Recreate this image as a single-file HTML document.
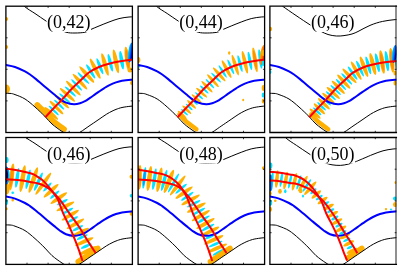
<!DOCTYPE html>
<html><head><meta charset="utf-8"><style>
html,body{margin:0;padding:0;background:#fff;}
svg{display:block;}
text{font-family:"Liberation Serif","Times New Roman",serif;}
</style></head><body>
<svg width="402" height="270" viewBox="0 0 402 270">
<defs>
<linearGradient id="gb" x1="0" y1="0" x2="1" y2="0"><stop offset="0" stop-color="#00e4ff"/><stop offset="0.45" stop-color="#0070ff"/><stop offset="0.75" stop-color="#0000e0"/><stop offset="1" stop-color="#000070"/></linearGradient>
<linearGradient id="gbl" x1="1" y1="0" x2="0" y2="0"><stop offset="0" stop-color="#00e4ff"/><stop offset="0.45" stop-color="#0070ff"/><stop offset="0.75" stop-color="#0000e0"/><stop offset="1" stop-color="#000070"/></linearGradient>
<linearGradient id="go" x1="0" y1="0" x2="1" y2="0"><stop offset="0" stop-color="#ffb000"/><stop offset="0.5" stop-color="#ff7000"/><stop offset="1" stop-color="#e00000"/></linearGradient>
<radialGradient id="oc"><stop offset="0" stop-color="#ff7a00"/><stop offset="0.6" stop-color="#ff9800"/><stop offset="1" stop-color="#ffb000"/></radialGradient>
<radialGradient id="cc"><stop offset="0" stop-color="#0050ff"/><stop offset="0.6" stop-color="#00a0ff"/><stop offset="1" stop-color="#00e4ff"/></radialGradient>
<clipPath id="pc"><rect x="5.9" y="6.2" width="126.5" height="126.3"/></clipPath>
</defs>
<g transform="translate(0.0 0.0)">
<g clip-path="url(#pc)">
<path d="M37.20,104.80 C38.87,106.38 44.37,111.47 47.20,114.30 C50.03,117.13 51.37,119.32 54.20,121.80 C57.03,124.28 62.53,127.97 64.20,129.20" fill="none" stroke="#ffb000" stroke-width="5.5" stroke-linecap="round"/>
<ellipse cx="51.3" cy="113.4" rx="9.2" ry="1.7" transform="rotate(42.8 51.3 113.4)" fill="#ffb000"/>
<ellipse cx="53.8" cy="110.5" rx="6.8" ry="1.2" transform="rotate(43.3 53.8 110.5)" fill="#00e4ff"/>
<ellipse cx="56.5" cy="107.6" rx="9.5" ry="1.7" transform="rotate(44.1 56.5 107.6)" fill="#ffb000"/>
<ellipse cx="59.2" cy="104.6" rx="7.0" ry="1.2" transform="rotate(44.0 59.2 104.6)" fill="#00e4ff"/>
<ellipse cx="62.0" cy="101.5" rx="9.8" ry="1.7" transform="rotate(43.3 62.0 101.5)" fill="#ffb000"/>
<ellipse cx="64.8" cy="98.3" rx="7.3" ry="1.2" transform="rotate(41.7 64.8 98.3)" fill="#00e4ff"/>
<ellipse cx="67.5" cy="94.9" rx="10.1" ry="1.7" transform="rotate(41.3 67.5 94.9)" fill="#ffb000"/>
<ellipse cx="70.4" cy="91.5" rx="7.5" ry="1.2" transform="rotate(42.2 70.4 91.5)" fill="#00e4ff"/>
<ellipse cx="73.4" cy="88.2" rx="10.3" ry="1.7" transform="rotate(44.9 73.4 88.2)" fill="#ffb000"/>
<ellipse cx="76.6" cy="84.9" rx="7.8" ry="1.2" transform="rotate(46.7 76.6 84.9)" fill="#00e4ff"/>
<ellipse cx="80.0" cy="81.6" rx="10.7" ry="1.8" transform="rotate(47.3 80.0 81.6)" fill="#ffb000"/>
<ellipse cx="83.4" cy="78.1" rx="8.1" ry="1.3" transform="rotate(45.2 83.4 78.1)" fill="#00e4ff"/>
<ellipse cx="86.8" cy="74.5" rx="11.0" ry="1.9" transform="rotate(47.7 86.8 74.5)" fill="#ffb000"/>
<ellipse cx="90.7" cy="71.4" rx="8.3" ry="1.5" transform="rotate(57.7 90.7 71.4)" fill="#00e4ff"/>
<ellipse cx="95.2" cy="68.7" rx="11.3" ry="2.0" transform="rotate(62.8 95.2 68.7)" fill="#ffb000"/>
<ellipse cx="99.9" cy="66.3" rx="8.6" ry="1.6" transform="rotate(68.3 99.9 66.3)" fill="#00e4ff"/>
<ellipse cx="105.0" cy="64.4" rx="11.7" ry="2.1" transform="rotate(74.0 105.0 64.4)" fill="#ffb000"/>
<ellipse cx="110.3" cy="62.8" rx="9.0" ry="1.7" transform="rotate(75.8 110.3 62.8)" fill="#00e4ff"/>
<ellipse cx="115.9" cy="61.4" rx="12.1" ry="2.2" transform="rotate(78.7 115.9 61.4)" fill="#ffb000"/>
<ellipse cx="121.6" cy="60.2" rx="9.3" ry="1.9" transform="rotate(80.6 121.6 60.2)" fill="#00e4ff"/>
<ellipse cx="127.4" cy="59.1" rx="12.4" ry="2.4" transform="rotate(82.1 127.4 59.1)" fill="#ffb000"/>
<ellipse cx="127.4" cy="59.1" rx="9.3" ry="1.7" transform="rotate(82.1 127.4 59.1)" fill="#ff9000"/>
<ellipse cx="133.5" cy="58.4" rx="9.5" ry="2.0" transform="rotate(87.1 133.5 58.4)" fill="#00e4ff"/>
<ellipse cx="130.6" cy="52.5" rx="2.6" ry="10.0" transform="rotate(8.0 130.6 52.5)" fill="url(#gb)"/>
<ellipse cx="6.0" cy="19.0" rx="2.2" ry="2.0" transform="rotate(0.0 6.0 19.0)" fill="#ffb000"/>
<ellipse cx="6.0" cy="47.0" rx="2.2" ry="2.0" transform="rotate(0.0 6.0 47.0)" fill="#ffb000"/>
<ellipse cx="6.0" cy="89.0" rx="4.0" ry="4.5" transform="rotate(0.0 6.0 89.0)" fill="#ffb000"/>
<ellipse cx="132.0" cy="83.0" rx="2.0" ry="2.0" transform="rotate(0.0 132.0 83.0)" fill="#ffb000"/>
<ellipse cx="130.0" cy="70.0" rx="2.5" ry="2.5" transform="rotate(0.0 130.0 70.0)" fill="#ffb000"/>
<path d="M15.00,-5.00 C16.50,-3.17 20.67,2.92 24.00,6.00 C27.33,9.08 31.33,11.00 35.00,13.50 C38.67,16.00 42.50,18.67 46.00,21.00 C49.50,23.33 52.67,25.63 56.00,27.50 C59.33,29.37 62.83,31.28 66.00,32.20 C69.17,33.12 71.83,33.00 75.00,33.00 C78.17,33.00 82.33,32.80 85.00,32.20 C87.67,31.60 88.67,30.43 91.00,29.40 C93.33,28.37 96.00,27.23 99.00,26.00 C102.00,24.77 105.67,23.23 109.00,22.00 C112.33,20.77 115.67,19.43 119.00,18.60 C122.33,17.77 125.83,17.30 129.00,17.00 C132.17,16.70 136.50,16.83 138.00,16.80" fill="none" stroke="#000" stroke-width="1"/>
<path d="M0.00,93.40 C1.67,93.40 7.50,93.20 10.00,93.40 C12.50,93.60 12.50,93.67 15.00,94.60 C17.50,95.53 21.67,96.93 25.00,99.00 C28.33,101.07 31.67,104.08 35.00,107.00 C38.33,109.92 42.17,113.67 45.00,116.50 C47.83,119.33 49.17,121.52 52.00,124.00 C54.83,126.48 59.33,129.68 62.00,131.40 C64.67,133.12 66.17,133.70 68.00,134.30 C69.83,134.90 71.10,135.28 73.00,135.00 C74.90,134.72 77.40,133.62 79.40,132.60 C81.40,131.58 83.40,129.98 85.00,128.90 C86.60,127.82 87.62,127.05 89.00,126.10 C90.38,125.15 91.63,124.33 93.30,123.20 C94.97,122.07 96.77,120.82 99.00,119.30 C101.23,117.78 104.53,115.45 106.70,114.10 C108.87,112.75 110.45,111.98 112.00,111.20 C113.55,110.42 114.33,110.02 116.00,109.40 C117.67,108.78 119.50,108.03 122.00,107.50 C124.50,106.97 128.33,106.45 131.00,106.20 C133.67,105.95 136.83,106.03 138.00,106.00" fill="none" stroke="#000" stroke-width="1"/>
<path d="M0.00,64.30 C1.00,64.42 3.50,64.55 6.00,65.00 C8.50,65.45 11.83,65.93 15.00,67.00 C18.17,68.07 22.50,70.15 25.00,71.40 C27.50,72.65 28.17,73.22 30.00,74.50 C31.83,75.78 34.00,77.48 36.00,79.10 C38.00,80.72 40.00,82.50 42.00,84.20 C44.00,85.90 46.00,87.62 48.00,89.30 C50.00,90.98 52.00,92.67 54.00,94.30 C56.00,95.93 58.00,97.72 60.00,99.10 C62.00,100.48 63.68,101.75 66.00,102.60 C68.32,103.45 71.57,104.08 73.90,104.20 C76.23,104.32 78.15,103.80 80.00,103.30 C81.85,102.80 83.33,102.10 85.00,101.20 C86.67,100.30 88.33,99.03 90.00,97.90 C91.67,96.77 93.50,95.45 95.00,94.40 C96.50,93.35 97.50,92.62 99.00,91.60 C100.50,90.58 102.33,89.33 104.00,88.30 C105.67,87.27 107.00,86.38 109.00,85.40 C111.00,84.42 113.83,83.17 116.00,82.40 C118.17,81.63 119.50,81.23 122.00,80.80 C124.50,80.37 128.33,80.00 131.00,79.80 C133.67,79.60 136.83,79.63 138.00,79.60" fill="none" stroke="#0000ff" stroke-width="2"/>
<path d="M45.30,117.30 C46.58,115.92 50.22,111.95 53.00,109.00 C55.78,106.05 58.83,103.02 62.00,99.60 C65.17,96.18 68.67,91.93 72.00,88.50 C75.33,85.07 79.17,81.67 82.00,79.00 C84.83,76.33 86.17,74.50 89.00,72.50 C91.83,70.50 95.67,68.45 99.00,67.00 C102.33,65.55 105.67,64.70 109.00,63.80 C112.33,62.90 115.33,62.27 119.00,61.60 C122.67,60.93 127.83,60.15 131.00,59.80 C134.17,59.45 136.83,59.55 138.00,59.50" fill="none" stroke="#ff0000" stroke-width="2"/>
</g>
<rect x="46.5" y="14" width="44.5" height="18" fill="#fff"/>
<text x="47" y="28" font-size="18" fill="#000">(0,42)</text>
</g>
<rect x="5.9" y="6.2" width="126.5" height="126.3" fill="none" stroke="#000" stroke-width="1.3"/>
<path d="M27.0,6.2v1.7M27.0,132.5v-1.7M48.1,6.2v1.7M48.1,132.5v-1.7M69.2,6.2v1.7M69.2,132.5v-1.7M90.2,6.2v1.7M90.2,132.5v-1.7M111.3,6.2v1.7M111.3,132.5v-1.7M5.9,37.8h1.7M132.4,37.8h-1.7M5.9,69.3h1.7M132.4,69.3h-1.7M5.9,100.9h1.7M132.4,100.9h-1.7" stroke="#000" stroke-width="0.8" fill="none"/>
<g transform="translate(132.2 0.0)">
<g clip-path="url(#pc)">
<path d="M47.20,114.30 C48.37,115.55 51.37,119.32 54.20,121.80 C57.03,124.28 62.53,127.97 64.20,129.20" fill="none" stroke="#ffb000" stroke-width="4.5" stroke-linecap="round"/>
<ellipse cx="50.0" cy="114.9" rx="6.0" ry="1.4" transform="rotate(42.7 50.0 114.9)" fill="#ffb000"/>
<ellipse cx="52.3" cy="112.3" rx="4.5" ry="1.0" transform="rotate(42.9 52.3 112.3)" fill="#00e4ff"/>
<ellipse cx="54.6" cy="109.7" rx="6.0" ry="1.4" transform="rotate(43.5 54.6 109.7)" fill="#ffb000"/>
<ellipse cx="57.0" cy="107.0" rx="4.5" ry="1.0" transform="rotate(44.1 57.0 107.0)" fill="#00e4ff"/>
<ellipse cx="59.4" cy="104.4" rx="6.0" ry="1.4" transform="rotate(44.0 59.4 104.4)" fill="#ffb000"/>
<ellipse cx="61.9" cy="101.6" rx="4.7" ry="1.0" transform="rotate(43.3 61.9 101.6)" fill="#00e4ff"/>
<ellipse cx="64.4" cy="98.7" rx="6.5" ry="1.4" transform="rotate(41.8 64.4 98.7)" fill="#ffb000"/>
<ellipse cx="66.9" cy="95.7" rx="5.2" ry="1.0" transform="rotate(41.3 66.9 95.7)" fill="#00e4ff"/>
<ellipse cx="69.4" cy="92.7" rx="7.2" ry="1.4" transform="rotate(41.9 69.4 92.7)" fill="#ffb000"/>
<ellipse cx="72.1" cy="89.6" rx="5.7" ry="1.0" transform="rotate(43.5 72.1 89.6)" fill="#00e4ff"/>
<ellipse cx="74.8" cy="86.7" rx="7.9" ry="1.4" transform="rotate(45.9 74.8 86.7)" fill="#ffb000"/>
<ellipse cx="77.8" cy="83.7" rx="6.2" ry="1.0" transform="rotate(47.0 77.8 83.7)" fill="#00e4ff"/>
<ellipse cx="80.8" cy="80.7" rx="8.6" ry="1.5" transform="rotate(47.2 80.8 80.7)" fill="#ffb000"/>
<ellipse cx="83.9" cy="77.6" rx="6.8" ry="1.1" transform="rotate(44.7 83.9 77.6)" fill="#00e4ff"/>
<ellipse cx="87.0" cy="74.4" rx="9.3" ry="1.6" transform="rotate(48.2 87.0 74.4)" fill="#ffb000"/>
<ellipse cx="90.5" cy="71.5" rx="7.4" ry="1.2" transform="rotate(57.3 90.5 71.5)" fill="#00e4ff"/>
<ellipse cx="94.4" cy="69.1" rx="10.0" ry="1.7" transform="rotate(62.0 94.4 69.1)" fill="#ffb000"/>
<ellipse cx="98.6" cy="66.9" rx="8.0" ry="1.3" transform="rotate(66.1 98.6 66.9)" fill="#00e4ff"/>
<ellipse cx="103.1" cy="65.1" rx="10.8" ry="1.8" transform="rotate(72.3 103.1 65.1)" fill="#ffb000"/>
<ellipse cx="107.8" cy="63.6" rx="8.6" ry="1.5" transform="rotate(74.9 107.8 63.6)" fill="#00e4ff"/>
<ellipse cx="112.7" cy="62.2" rx="11.6" ry="1.9" transform="rotate(77.1 112.7 62.2)" fill="#ffb000"/>
<ellipse cx="117.7" cy="61.0" rx="9.3" ry="1.6" transform="rotate(79.4 117.7 61.0)" fill="#00e4ff"/>
<ellipse cx="122.8" cy="59.9" rx="12.5" ry="2.0" transform="rotate(80.9 122.8 59.9)" fill="#ffb000"/>
<ellipse cx="122.8" cy="59.9" rx="9.4" ry="1.4" transform="rotate(80.9 122.8 59.9)" fill="#ff9000"/>
<ellipse cx="128.1" cy="59.0" rx="9.9" ry="1.7" transform="rotate(82.3 128.1 59.0)" fill="#00e4ff"/>
<ellipse cx="133.6" cy="58.4" rx="13.0" ry="2.0" transform="rotate(87.1 133.6 58.4)" fill="#ffb000"/>
<ellipse cx="133.6" cy="58.4" rx="9.8" ry="1.4" transform="rotate(87.1 133.6 58.4)" fill="#ff9000"/>
<ellipse cx="130.4" cy="55.0" rx="2.6" ry="10.0" transform="rotate(8.0 130.4 55.0)" fill="url(#go)"/>
<ellipse cx="6.0" cy="60.0" rx="2.2" ry="3.0" transform="rotate(0.0 6.0 60.0)" fill="#ffb000"/>
<ellipse cx="7.0" cy="66.0" rx="1.2" ry="1.6" transform="rotate(0.0 7.0 66.0)" fill="#00e4ff"/>
<ellipse cx="131.0" cy="53.0" rx="2.0" ry="3.0" transform="rotate(0.0 131.0 53.0)" fill="#ffb000"/>
<ellipse cx="131.0" cy="63.0" rx="1.5" ry="3.0" transform="rotate(0.0 131.0 63.0)" fill="#00e4ff"/>
<ellipse cx="131.0" cy="88.0" rx="1.5" ry="3.0" transform="rotate(0.0 131.0 88.0)" fill="#ffb000"/>
<ellipse cx="131.0" cy="95.0" rx="1.5" ry="2.5" transform="rotate(0.0 131.0 95.0)" fill="#00e4ff"/>
<ellipse cx="131.0" cy="101.0" rx="1.5" ry="2.5" transform="rotate(0.0 131.0 101.0)" fill="#ffb000"/>
<ellipse cx="97.0" cy="53.0" rx="1.2" ry="1.8" transform="rotate(0.0 97.0 53.0)" fill="#ffb000"/>
<ellipse cx="111.0" cy="100.0" rx="1.0" ry="1.2" transform="rotate(0.0 111.0 100.0)" fill="#ffb000"/>
<path d="M15.00,-5.00 C16.50,-3.17 20.67,2.92 24.00,6.00 C27.33,9.08 31.33,11.00 35.00,13.50 C38.67,16.00 42.50,18.67 46.00,21.00 C49.50,23.33 52.67,25.63 56.00,27.50 C59.33,29.37 62.83,31.28 66.00,32.20 C69.17,33.12 71.83,33.00 75.00,33.00 C78.17,33.00 82.33,32.80 85.00,32.20 C87.67,31.60 88.67,30.43 91.00,29.40 C93.33,28.37 96.00,27.23 99.00,26.00 C102.00,24.77 105.67,23.23 109.00,22.00 C112.33,20.77 115.67,19.43 119.00,18.60 C122.33,17.77 125.83,17.30 129.00,17.00 C132.17,16.70 136.50,16.83 138.00,16.80" fill="none" stroke="#000" stroke-width="1"/>
<path d="M0.00,93.40 C1.67,93.40 7.50,93.20 10.00,93.40 C12.50,93.60 12.50,93.67 15.00,94.60 C17.50,95.53 21.67,96.93 25.00,99.00 C28.33,101.07 31.67,104.08 35.00,107.00 C38.33,109.92 42.17,113.67 45.00,116.50 C47.83,119.33 49.17,121.52 52.00,124.00 C54.83,126.48 59.33,129.68 62.00,131.40 C64.67,133.12 66.17,133.70 68.00,134.30 C69.83,134.90 71.10,135.28 73.00,135.00 C74.90,134.72 77.40,133.62 79.40,132.60 C81.40,131.58 83.40,129.98 85.00,128.90 C86.60,127.82 87.62,127.05 89.00,126.10 C90.38,125.15 91.63,124.33 93.30,123.20 C94.97,122.07 96.77,120.82 99.00,119.30 C101.23,117.78 104.53,115.45 106.70,114.10 C108.87,112.75 110.45,111.98 112.00,111.20 C113.55,110.42 114.33,110.02 116.00,109.40 C117.67,108.78 119.50,108.03 122.00,107.50 C124.50,106.97 128.33,106.45 131.00,106.20 C133.67,105.95 136.83,106.03 138.00,106.00" fill="none" stroke="#000" stroke-width="1"/>
<path d="M0.00,64.30 C1.00,64.42 3.50,64.55 6.00,65.00 C8.50,65.45 11.83,65.93 15.00,67.00 C18.17,68.07 22.50,70.15 25.00,71.40 C27.50,72.65 28.17,73.22 30.00,74.50 C31.83,75.78 34.00,77.48 36.00,79.10 C38.00,80.72 40.00,82.50 42.00,84.20 C44.00,85.90 46.00,87.62 48.00,89.30 C50.00,90.98 52.00,92.67 54.00,94.30 C56.00,95.93 58.00,97.72 60.00,99.10 C62.00,100.48 63.68,101.75 66.00,102.60 C68.32,103.45 71.57,104.08 73.90,104.20 C76.23,104.32 78.15,103.80 80.00,103.30 C81.85,102.80 83.33,102.10 85.00,101.20 C86.67,100.30 88.33,99.03 90.00,97.90 C91.67,96.77 93.50,95.45 95.00,94.40 C96.50,93.35 97.50,92.62 99.00,91.60 C100.50,90.58 102.33,89.33 104.00,88.30 C105.67,87.27 107.00,86.38 109.00,85.40 C111.00,84.42 113.83,83.17 116.00,82.40 C118.17,81.63 119.50,81.23 122.00,80.80 C124.50,80.37 128.33,80.00 131.00,79.80 C133.67,79.60 136.83,79.63 138.00,79.60" fill="none" stroke="#0000ff" stroke-width="2"/>
<path d="M45.30,117.30 C46.58,115.92 50.22,111.95 53.00,109.00 C55.78,106.05 58.83,103.02 62.00,99.60 C65.17,96.18 68.67,91.93 72.00,88.50 C75.33,85.07 79.17,81.67 82.00,79.00 C84.83,76.33 86.17,74.50 89.00,72.50 C91.83,70.50 95.67,68.45 99.00,67.00 C102.33,65.55 105.67,64.70 109.00,63.80 C112.33,62.90 115.33,62.27 119.00,61.60 C122.67,60.93 127.83,60.15 131.00,59.80 C134.17,59.45 136.83,59.55 138.00,59.50" fill="none" stroke="#ff0000" stroke-width="2"/>
</g>
<rect x="46.5" y="14" width="44.5" height="18" fill="#fff"/>
<text x="47" y="28" font-size="18" fill="#000">(0,44)</text>
</g>
<rect x="138.1" y="6.2" width="126.5" height="126.3" fill="none" stroke="#000" stroke-width="1.3"/>
<path d="M159.2,6.2v1.7M159.2,132.5v-1.7M180.3,6.2v1.7M180.3,132.5v-1.7M201.3,6.2v1.7M201.3,132.5v-1.7M222.4,6.2v1.7M222.4,132.5v-1.7M243.5,6.2v1.7M243.5,132.5v-1.7M138.1,37.8h1.7M264.6,37.8h-1.7M138.1,69.3h1.7M264.6,69.3h-1.7M138.1,100.9h1.7M264.6,100.9h-1.7" stroke="#000" stroke-width="0.8" fill="none"/>
<g transform="translate(264.0 0.0)">
<g clip-path="url(#pc)">
<path d="M47.20,114.30 C48.37,115.55 51.37,119.32 54.20,121.80 C57.03,124.28 62.53,127.97 64.20,129.20" fill="none" stroke="#ffb000" stroke-width="4.5" stroke-linecap="round"/>
<ellipse cx="51.1" cy="113.7" rx="7.3" ry="1.7" transform="rotate(42.8 51.1 113.7)" fill="#ffb000"/>
<ellipse cx="53.2" cy="111.3" rx="5.5" ry="1.2" transform="rotate(43.1 53.2 111.3)" fill="#00e4ff"/>
<ellipse cx="55.4" cy="108.8" rx="7.7" ry="1.7" transform="rotate(43.8 55.4 108.8)" fill="#ffb000"/>
<ellipse cx="57.6" cy="106.3" rx="5.9" ry="1.2" transform="rotate(44.1 57.6 106.3)" fill="#00e4ff"/>
<ellipse cx="59.9" cy="103.8" rx="8.0" ry="1.7" transform="rotate(43.9 59.9 103.8)" fill="#ffb000"/>
<ellipse cx="62.3" cy="101.2" rx="6.2" ry="1.2" transform="rotate(43.1 62.3 101.2)" fill="#00e4ff"/>
<ellipse cx="64.6" cy="98.5" rx="8.4" ry="1.7" transform="rotate(41.7 64.6 98.5)" fill="#ffb000"/>
<ellipse cx="66.9" cy="95.7" rx="6.6" ry="1.2" transform="rotate(41.3 66.9 95.7)" fill="#00e4ff"/>
<ellipse cx="69.3" cy="92.9" rx="8.8" ry="1.7" transform="rotate(41.8 69.3 92.9)" fill="#ffb000"/>
<ellipse cx="71.7" cy="90.0" rx="7.0" ry="1.2" transform="rotate(43.3 71.7 90.0)" fill="#00e4ff"/>
<ellipse cx="74.3" cy="87.3" rx="9.2" ry="1.7" transform="rotate(45.4 74.3 87.3)" fill="#ffb000"/>
<ellipse cx="77.0" cy="84.5" rx="7.4" ry="1.2" transform="rotate(46.7 77.0 84.5)" fill="#00e4ff"/>
<ellipse cx="79.8" cy="81.7" rx="9.6" ry="1.8" transform="rotate(47.3 79.8 81.7)" fill="#ffb000"/>
<ellipse cx="82.7" cy="78.9" rx="7.8" ry="1.3" transform="rotate(46.4 82.7 78.9)" fill="#00e4ff"/>
<ellipse cx="85.5" cy="75.9" rx="10.0" ry="1.8" transform="rotate(45.9 85.5 75.9)" fill="#ffb000"/>
<ellipse cx="88.6" cy="73.1" rx="8.2" ry="1.4" transform="rotate(54.4 88.6 73.1)" fill="#00e4ff"/>
<ellipse cx="92.2" cy="70.7" rx="10.5" ry="1.9" transform="rotate(60.9 92.2 70.7)" fill="#ffb000"/>
<ellipse cx="96.0" cy="68.6" rx="8.7" ry="1.5" transform="rotate(64.9 96.0 68.6)" fill="#00e4ff"/>
<ellipse cx="100.0" cy="66.8" rx="10.9" ry="2.1" transform="rotate(69.4 100.0 66.8)" fill="#ffb000"/>
<ellipse cx="104.3" cy="65.3" rx="9.2" ry="1.7" transform="rotate(74.3 104.3 65.3)" fill="#00e4ff"/>
<ellipse cx="108.8" cy="64.0" rx="11.4" ry="2.2" transform="rotate(76.2 108.8 64.0)" fill="#ffb000"/>
<ellipse cx="113.4" cy="62.8" rx="9.7" ry="1.8" transform="rotate(79.2 113.4 62.8)" fill="#00e4ff"/>
<ellipse cx="118.1" cy="61.9" rx="11.9" ry="2.3" transform="rotate(81.3 118.1 61.9)" fill="#ffb000"/>
<ellipse cx="118.1" cy="61.9" rx="8.9" ry="1.6" transform="rotate(81.3 118.1 61.9)" fill="#ff9000"/>
<ellipse cx="122.9" cy="61.1" rx="10.2" ry="1.9" transform="rotate(82.9 122.9 61.1)" fill="#00e4ff"/>
<ellipse cx="127.8" cy="60.3" rx="12.4" ry="2.4" transform="rotate(84.0 127.8 60.3)" fill="#ffb000"/>
<ellipse cx="127.8" cy="60.3" rx="9.3" ry="1.7" transform="rotate(84.0 127.8 60.3)" fill="#ff9000"/>
<ellipse cx="132.9" cy="59.9" rx="10.5" ry="2.0" transform="rotate(87.4 132.9 59.9)" fill="#00e4ff"/>
<ellipse cx="130.4" cy="54.0" rx="2.6" ry="9.0" transform="rotate(8.0 130.4 54.0)" fill="url(#gb)"/>
<ellipse cx="6.0" cy="29.0" rx="2.2" ry="2.2" transform="rotate(0.0 6.0 29.0)" fill="#ffb000"/>
<ellipse cx="6.0" cy="72.0" rx="1.5" ry="2.0" transform="rotate(0.0 6.0 72.0)" fill="#00e4ff"/>
<ellipse cx="131.0" cy="73.0" rx="1.5" ry="2.5" transform="rotate(0.0 131.0 73.0)" fill="#ffb000"/>
<ellipse cx="131.0" cy="83.0" rx="1.5" ry="2.5" transform="rotate(0.0 131.0 83.0)" fill="#ffb000"/>
<path d="M12.00,1.00 C13.05,1.83 14.97,3.58 18.30,6.00 C21.63,8.42 27.33,12.33 32.00,15.50 C36.67,18.67 42.25,22.42 46.30,25.00 C50.35,27.58 53.35,29.42 56.30,31.00 C59.25,32.58 61.33,33.67 64.00,34.50 C66.67,35.33 69.63,35.82 72.30,36.00 C74.97,36.18 77.38,35.93 80.00,35.60 C82.62,35.27 85.67,34.68 88.00,34.00 C90.33,33.32 92.00,32.45 94.00,31.50 C96.00,30.55 98.00,29.32 100.00,28.30 C102.00,27.28 103.92,26.28 106.00,25.40 C108.08,24.52 110.38,23.67 112.50,23.00 C114.62,22.33 116.62,21.85 118.70,21.40 C120.78,20.95 122.90,20.60 125.00,20.30 C127.10,20.00 129.13,19.78 131.30,19.60 C133.47,19.42 136.88,19.27 138.00,19.20" fill="none" stroke="#000" stroke-width="1"/>
<path d="M0.00,93.40 C1.67,93.40 7.50,93.20 10.00,93.40 C12.50,93.60 12.50,93.67 15.00,94.60 C17.50,95.53 21.67,96.93 25.00,99.00 C28.33,101.07 31.67,104.08 35.00,107.00 C38.33,109.92 42.17,113.67 45.00,116.50 C47.83,119.33 49.17,121.52 52.00,124.00 C54.83,126.48 59.33,129.68 62.00,131.40 C64.67,133.12 66.17,133.70 68.00,134.30 C69.83,134.90 71.10,135.28 73.00,135.00 C74.90,134.72 77.40,133.62 79.40,132.60 C81.40,131.58 83.40,129.98 85.00,128.90 C86.60,127.82 87.62,127.05 89.00,126.10 C90.38,125.15 91.63,124.33 93.30,123.20 C94.97,122.07 96.77,120.82 99.00,119.30 C101.23,117.78 104.53,115.45 106.70,114.10 C108.87,112.75 110.45,111.98 112.00,111.20 C113.55,110.42 114.33,110.02 116.00,109.40 C117.67,108.78 119.50,108.03 122.00,107.50 C124.50,106.97 128.33,106.45 131.00,106.20 C133.67,105.95 136.83,106.03 138.00,106.00" fill="none" stroke="#000" stroke-width="1"/>
<path d="M0.00,64.30 C1.00,64.42 3.50,64.55 6.00,65.00 C8.50,65.45 11.83,65.93 15.00,67.00 C18.17,68.07 22.50,70.15 25.00,71.40 C27.50,72.65 28.17,73.22 30.00,74.50 C31.83,75.78 34.00,77.48 36.00,79.10 C38.00,80.72 40.00,82.50 42.00,84.20 C44.00,85.90 46.00,87.62 48.00,89.30 C50.00,90.98 52.00,92.67 54.00,94.30 C56.00,95.93 58.00,97.72 60.00,99.10 C62.00,100.48 63.68,101.75 66.00,102.60 C68.32,103.45 71.57,104.08 73.90,104.20 C76.23,104.32 78.15,103.80 80.00,103.30 C81.85,102.80 83.33,102.10 85.00,101.20 C86.67,100.30 88.33,99.03 90.00,97.90 C91.67,96.77 93.50,95.45 95.00,94.40 C96.50,93.35 97.50,92.62 99.00,91.60 C100.50,90.58 102.33,89.33 104.00,88.30 C105.67,87.27 107.00,86.38 109.00,85.40 C111.00,84.42 113.83,83.17 116.00,82.40 C118.17,81.63 119.50,81.23 122.00,80.80 C124.50,80.37 128.33,80.00 131.00,79.80 C133.67,79.60 136.83,79.63 138.00,79.60" fill="none" stroke="#0000ff" stroke-width="2"/>
<path d="M45.30,117.30 C46.58,115.92 50.22,111.95 53.00,109.00 C55.78,106.05 58.83,103.02 62.00,99.60 C65.17,96.18 68.67,91.93 72.00,88.50 C75.33,85.07 79.17,81.63 82.00,79.00 C84.83,76.37 86.17,74.62 89.00,72.70 C91.83,70.78 95.67,68.87 99.00,67.50 C102.33,66.13 105.67,65.32 109.00,64.50 C112.33,63.68 115.33,63.15 119.00,62.60 C122.67,62.05 127.83,61.47 131.00,61.20 C134.17,60.93 136.83,61.03 138.00,61.00" fill="none" stroke="#ff0000" stroke-width="2"/>
</g>
<rect x="46.5" y="14" width="44.5" height="18" fill="#fff"/>
<text x="47" y="28" font-size="18" fill="#000">(0,46)</text>
</g>
<path d="M396.4,6.2H269.9V132.5H396.4" fill="none" stroke="#000" stroke-width="1.3" stroke-linecap="square"/>
<path d="M396.0,5.6V133.1" stroke="#000" stroke-opacity="0.55" stroke-width="1.6" fill="none"/>
<path d="M291.0,6.2v1.7M291.0,132.5v-1.7M312.1,6.2v1.7M312.1,132.5v-1.7M333.1,6.2v1.7M333.1,132.5v-1.7M354.2,6.2v1.7M354.2,132.5v-1.7M375.3,6.2v1.7M375.3,132.5v-1.7M269.9,37.8h1.7M396.4,37.8h-1.7M269.9,69.3h1.7M396.4,69.3h-1.7M269.9,100.9h1.7M396.4,100.9h-1.7" stroke="#000" stroke-width="0.8" fill="none"/>
<g transform="translate(0.0 131.6)">
<g clip-path="url(#pc)">
<ellipse cx="0.6" cy="44.9" rx="13.5" ry="2.3" transform="rotate(88.8 0.6 44.9)" fill="#ffb000"/>
<ellipse cx="0.6" cy="44.9" rx="10.1" ry="1.6" transform="rotate(88.8 0.6 44.9)" fill="#ff9000"/>
<ellipse cx="6.1" cy="44.9" rx="10.0" ry="1.7" transform="rotate(93.5 6.1 44.9)" fill="#00e4ff"/>
<ellipse cx="11.6" cy="45.4" rx="13.5" ry="2.3" transform="rotate(96.7 11.6 45.4)" fill="#ffb000"/>
<ellipse cx="11.6" cy="45.4" rx="10.1" ry="1.6" transform="rotate(96.7 11.6 45.4)" fill="#ff9000"/>
<ellipse cx="17.2" cy="46.2" rx="10.0" ry="1.7" transform="rotate(98.1 17.2 46.2)" fill="#00e4ff"/>
<ellipse cx="22.6" cy="47.0" rx="13.5" ry="2.3" transform="rotate(99.6 22.6 47.0)" fill="#ffb000"/>
<ellipse cx="28.1" cy="47.7" rx="10.0" ry="1.7" transform="rotate(102.0 28.1 47.7)" fill="#00e4ff"/>
<ellipse cx="33.3" cy="48.4" rx="13.5" ry="2.3" transform="rotate(108.4 33.3 48.4)" fill="#ffb000"/>
<ellipse cx="38.4" cy="50.0" rx="10.0" ry="1.7" transform="rotate(115.1 38.4 50.0)" fill="#00e4ff"/>
<ellipse cx="43.3" cy="52.1" rx="13.5" ry="1.9" transform="rotate(125.1 43.3 52.1)" fill="#ffb000"/>
<ellipse cx="47.4" cy="55.4" rx="6.0" ry="1.4" transform="rotate(132.7 47.4 55.4)" fill="#00e4ff"/>
<ellipse cx="51.1" cy="59.2" rx="10.0" ry="1.9" transform="rotate(137.6 51.1 59.2)" fill="#ffb000"/>
<ellipse cx="54.7" cy="63.1" rx="6.0" ry="1.4" transform="rotate(138.1 54.7 63.1)" fill="#00e4ff"/>
<ellipse cx="58.8" cy="66.5" rx="10.0" ry="1.9" transform="rotate(145.4 58.8 66.5)" fill="#ffb000"/>
<ellipse cx="62.4" cy="70.6" rx="6.0" ry="1.4" transform="rotate(151.8 62.4 70.6)" fill="#00e4ff"/>
<ellipse cx="65.4" cy="74.8" rx="10.0" ry="1.9" transform="rotate(152.6 65.4 74.8)" fill="#ffb000"/>
<ellipse cx="67.8" cy="79.3" rx="6.0" ry="1.4" transform="rotate(151.2 67.8 79.3)" fill="#00e4ff"/>
<ellipse cx="70.3" cy="83.6" rx="10.0" ry="1.9" transform="rotate(149.3 70.3 83.6)" fill="#ffb000"/>
<ellipse cx="72.8" cy="87.9" rx="6.0" ry="1.4" transform="rotate(149.1 72.8 87.9)" fill="#00e4ff"/>
<ellipse cx="75.4" cy="92.2" rx="10.0" ry="1.9" transform="rotate(150.3 75.4 92.2)" fill="#ffb000"/>
<ellipse cx="77.8" cy="96.6" rx="6.0" ry="1.4" transform="rotate(152.4 77.8 96.6)" fill="#00e4ff"/>
<ellipse cx="80.0" cy="101.0" rx="10.0" ry="1.9" transform="rotate(153.8 80.0 101.0)" fill="#ffb000"/>
<ellipse cx="82.2" cy="105.5" rx="6.0" ry="1.4" transform="rotate(154.5 82.2 105.5)" fill="#00e4ff"/>
<ellipse cx="84.3" cy="110.0" rx="10.0" ry="1.9" transform="rotate(156.0 84.3 110.0)" fill="#ffb000"/>
<ellipse cx="86.2" cy="114.5" rx="6.0" ry="1.4" transform="rotate(156.6 86.2 114.5)" fill="#00e4ff"/>
<ellipse cx="88.2" cy="118.9" rx="10.0" ry="1.9" transform="rotate(155.5 88.2 118.9)" fill="#ffb000"/>
<ellipse cx="90.3" cy="122.8" rx="6.0" ry="1.4" transform="rotate(143.4 90.3 122.8)" fill="#00e4ff"/>
<ellipse cx="6.6" cy="28.5" rx="2.0" ry="3.0" transform="rotate(0.0 6.6 28.5)" fill="#00e4ff"/>
<ellipse cx="7.0" cy="57.0" rx="2.5" ry="6.0" transform="rotate(0.0 7.0 57.0)" fill="#ffb000"/>
<ellipse cx="12.7" cy="61.1" rx="1.3" ry="1.3" transform="rotate(0.0 12.7 61.1)" fill="#00e4ff"/>
<ellipse cx="12.7" cy="68.4" rx="1.3" ry="1.5" transform="rotate(0.0 12.7 68.4)" fill="#ffb000"/>
<ellipse cx="6.5" cy="70.4" rx="1.5" ry="3.0" transform="rotate(0.0 6.5 70.4)" fill="#00e4ff"/>
<ellipse cx="6.5" cy="77.1" rx="1.2" ry="1.5" transform="rotate(0.0 6.5 77.1)" fill="#ffb000"/>
<ellipse cx="6.4" cy="44.0" rx="3.4" ry="9.0" transform="rotate(0.0 6.4 44.0)" fill="url(#gbl)"/>
<ellipse cx="5.9" cy="44.0" rx="2.2" ry="7.0" transform="rotate(0.0 5.9 44.0)" fill="#000060"/>
<ellipse cx="131.5" cy="45.2" rx="2.0" ry="2.0" transform="rotate(0.0 131.5 45.2)" fill="#ffb000"/>
<ellipse cx="131.5" cy="64.2" rx="1.8" ry="1.8" transform="rotate(0.0 131.5 64.2)" fill="#00e4ff"/>
<ellipse cx="131.5" cy="82.2" rx="1.8" ry="2.0" transform="rotate(0.0 131.5 82.2)" fill="#ffb000"/>
<path d="M78.20,130.00 C79.13,129.38 82.20,127.38 83.80,126.30 C85.40,125.22 86.42,124.45 87.80,123.50 C89.18,122.55 90.43,121.73 92.10,120.60 C93.77,119.47 96.85,117.35 97.80,116.70" fill="none" stroke="#ffb000" stroke-width="5.5" stroke-linecap="round"/>
<path d="M15.00,-6.60 C16.50,-4.77 20.67,1.32 24.00,4.40 C27.33,7.48 31.33,9.40 35.00,11.90 C38.67,14.40 42.50,17.07 46.00,19.40 C49.50,21.73 52.67,24.03 56.00,25.90 C59.33,27.77 62.83,29.68 66.00,30.60 C69.17,31.52 71.83,31.40 75.00,31.40 C78.17,31.40 82.33,31.20 85.00,30.60 C87.67,30.00 88.67,28.83 91.00,27.80 C93.33,26.77 96.00,25.63 99.00,24.40 C102.00,23.17 105.67,21.63 109.00,20.40 C112.33,19.17 115.67,17.83 119.00,17.00 C122.33,16.17 125.83,15.70 129.00,15.40 C132.17,15.10 136.50,15.23 138.00,15.20" fill="none" stroke="#000" stroke-width="1"/>
<path d="M0.00,93.40 C1.67,93.40 7.50,93.20 10.00,93.40 C12.50,93.60 12.50,93.67 15.00,94.60 C17.50,95.53 21.67,96.93 25.00,99.00 C28.33,101.07 31.67,104.08 35.00,107.00 C38.33,109.92 42.17,113.67 45.00,116.50 C47.83,119.33 49.17,121.52 52.00,124.00 C54.83,126.48 59.33,129.68 62.00,131.40 C64.67,133.12 66.17,133.70 68.00,134.30 C69.83,134.90 71.10,135.28 73.00,135.00 C74.90,134.72 77.40,133.62 79.40,132.60 C81.40,131.58 83.40,129.98 85.00,128.90 C86.60,127.82 87.62,127.05 89.00,126.10 C90.38,125.15 91.63,124.33 93.30,123.20 C94.97,122.07 96.77,120.82 99.00,119.30 C101.23,117.78 104.53,115.45 106.70,114.10 C108.87,112.75 110.45,111.98 112.00,111.20 C113.55,110.42 114.33,110.02 116.00,109.40 C117.67,108.78 119.50,108.03 122.00,107.50 C124.50,106.97 128.33,106.45 131.00,106.20 C133.67,105.95 136.83,106.03 138.00,106.00" fill="none" stroke="#000" stroke-width="1"/>
<path d="M0.00,64.30 C1.00,64.42 3.50,64.55 6.00,65.00 C8.50,65.45 11.83,65.93 15.00,67.00 C18.17,68.07 22.50,70.15 25.00,71.40 C27.50,72.65 28.17,73.22 30.00,74.50 C31.83,75.78 34.00,77.48 36.00,79.10 C38.00,80.72 40.00,82.50 42.00,84.20 C44.00,85.90 46.00,87.62 48.00,89.30 C50.00,90.98 52.00,92.67 54.00,94.30 C56.00,95.93 58.00,97.72 60.00,99.10 C62.00,100.48 63.68,101.75 66.00,102.60 C68.32,103.45 71.57,104.08 73.90,104.20 C76.23,104.32 78.15,103.80 80.00,103.30 C81.85,102.80 83.33,102.10 85.00,101.20 C86.67,100.30 88.33,99.03 90.00,97.90 C91.67,96.77 93.50,95.45 95.00,94.40 C96.50,93.35 97.50,92.62 99.00,91.60 C100.50,90.58 102.33,89.33 104.00,88.30 C105.67,87.27 107.00,86.38 109.00,85.40 C111.00,84.42 113.83,83.17 116.00,82.40 C118.17,81.63 119.50,81.23 122.00,80.80 C124.50,80.37 128.33,80.00 131.00,79.80 C133.67,79.60 136.83,79.63 138.00,79.60" fill="none" stroke="#0000ff" stroke-width="2"/>
<path d="M0.00,37.20 C1.00,37.20 3.67,37.03 6.00,37.20 C8.33,37.37 11.00,37.70 14.00,38.20 C17.00,38.70 21.00,39.53 24.00,40.20 C27.00,40.87 29.83,41.45 32.00,42.20 C34.17,42.95 35.33,43.70 37.00,44.70 C38.67,45.70 40.33,46.78 42.00,48.20 C43.67,49.62 45.50,51.53 47.00,53.20 C48.50,54.87 49.83,56.70 51.00,58.20 C52.17,59.70 52.83,60.53 54.00,62.20 C55.17,63.87 56.50,65.03 58.00,68.20 C59.50,71.37 61.08,76.70 63.00,81.20 C64.92,85.70 67.50,90.70 69.50,95.20 C71.50,99.70 73.42,104.28 75.00,108.20 C76.58,112.12 77.75,115.17 79.00,118.70 C80.25,122.23 81.92,127.62 82.50,129.40" fill="none" stroke="#ff0000" stroke-width="2"/>
<path d="M0.00,47.70 C1.00,47.70 3.67,47.62 6.00,47.70 C8.33,47.78 11.00,47.95 14.00,48.20 C17.00,48.45 21.00,48.78 24.00,49.20 C27.00,49.62 29.83,50.28 32.00,50.70 C34.17,51.12 35.33,51.28 37.00,51.70 C38.67,52.12 40.33,52.53 42.00,53.20 C43.67,53.87 45.50,54.78 47.00,55.70 C48.50,56.62 49.83,57.70 51.00,58.70 C52.17,59.70 52.50,60.12 54.00,61.70 C55.50,63.28 57.50,64.95 60.00,68.20 C62.50,71.45 65.83,76.70 69.00,81.20 C72.17,85.70 76.00,90.70 79.00,95.20 C82.00,99.70 84.75,104.62 87.00,108.20 C89.25,111.78 91.07,114.50 92.50,116.70 C93.93,118.90 95.08,120.62 95.60,121.40" fill="none" stroke="#ff0000" stroke-width="2"/>
</g>
<rect x="46.5" y="14" width="44.5" height="18" fill="#fff"/>
<text x="47" y="28" font-size="18" fill="#000">(0,46)</text>
</g>
<rect x="5.9" y="137.5" width="126.5" height="126.9" fill="none" stroke="#000" stroke-width="1.3"/>
<path d="M27.0,137.5v1.7M27.0,264.4v-1.7M48.1,137.5v1.7M48.1,264.4v-1.7M69.2,137.5v1.7M69.2,264.4v-1.7M90.2,137.5v1.7M90.2,264.4v-1.7M111.3,137.5v1.7M111.3,264.4v-1.7M5.9,169.2h1.7M132.4,169.2h-1.7M5.9,200.9h1.7M132.4,200.9h-1.7M5.9,232.7h1.7M132.4,232.7h-1.7" stroke="#000" stroke-width="0.8" fill="none"/>
<g transform="translate(132.2 131.6)">
<g clip-path="url(#pc)">
<ellipse cx="2.0" cy="45.7" rx="11.0" ry="1.7" transform="rotate(88.8 2.0 45.7)" fill="#00e4ff"/>
<ellipse cx="2.0" cy="45.7" rx="8.2" ry="1.2" transform="rotate(88.8 2.0 45.7)" fill="#00a0ff"/>
<ellipse cx="7.0" cy="45.8" rx="12.5" ry="2.3" transform="rotate(94.3 7.0 45.8)" fill="#ffb000"/>
<ellipse cx="12.1" cy="46.3" rx="11.0" ry="1.7" transform="rotate(96.7 12.1 46.3)" fill="#00e4ff"/>
<ellipse cx="12.1" cy="46.3" rx="8.2" ry="1.2" transform="rotate(96.7 12.1 46.3)" fill="#00a0ff"/>
<ellipse cx="17.1" cy="46.9" rx="12.5" ry="2.3" transform="rotate(97.7 17.1 46.9)" fill="#ffb000"/>
<ellipse cx="22.2" cy="47.6" rx="11.0" ry="1.7" transform="rotate(98.7 22.2 47.6)" fill="#00e4ff"/>
<ellipse cx="27.2" cy="48.2" rx="12.5" ry="2.3" transform="rotate(100.1 27.2 48.2)" fill="#ffb000"/>
<ellipse cx="32.0" cy="48.7" rx="11.0" ry="1.7" transform="rotate(104.6 32.0 48.7)" fill="#00e4ff"/>
<ellipse cx="36.7" cy="49.8" rx="12.5" ry="2.3" transform="rotate(112.1 36.7 49.8)" fill="#ffb000"/>
<ellipse cx="41.3" cy="51.4" rx="11.0" ry="1.4" transform="rotate(119.9 41.3 51.4)" fill="#00e4ff"/>
<ellipse cx="45.5" cy="53.9" rx="12.5" ry="1.9" transform="rotate(127.8 45.5 53.9)" fill="#ffb000"/>
<ellipse cx="48.9" cy="57.2" rx="7.5" ry="1.4" transform="rotate(139.6 48.9 57.2)" fill="#00e4ff"/>
<ellipse cx="51.9" cy="61.0" rx="10.5" ry="1.9" transform="rotate(145.1 51.9 61.0)" fill="#ffb000"/>
<ellipse cx="55.1" cy="64.7" rx="7.5" ry="1.4" transform="rotate(145.2 55.1 64.7)" fill="#00e4ff"/>
<ellipse cx="58.4" cy="68.3" rx="10.5" ry="1.9" transform="rotate(151.2 58.4 68.3)" fill="#ffb000"/>
<ellipse cx="61.5" cy="72.1" rx="7.5" ry="1.4" transform="rotate(153.2 61.5 72.1)" fill="#00e4ff"/>
<ellipse cx="64.2" cy="76.0" rx="10.5" ry="1.9" transform="rotate(152.8 64.2 76.0)" fill="#ffb000"/>
<ellipse cx="66.3" cy="80.0" rx="7.5" ry="1.4" transform="rotate(150.9 66.3 80.0)" fill="#00e4ff"/>
<ellipse cx="68.6" cy="84.0" rx="10.5" ry="1.9" transform="rotate(149.2 68.6 84.0)" fill="#ffb000"/>
<ellipse cx="71.0" cy="87.9" rx="7.5" ry="1.4" transform="rotate(149.0 71.0 87.9)" fill="#00e4ff"/>
<ellipse cx="73.3" cy="91.9" rx="10.5" ry="1.9" transform="rotate(150.2 73.3 91.9)" fill="#ffb000"/>
<ellipse cx="75.5" cy="96.0" rx="7.5" ry="1.4" transform="rotate(152.1 75.5 96.0)" fill="#00e4ff"/>
<ellipse cx="77.6" cy="100.0" rx="10.5" ry="1.9" transform="rotate(153.5 77.6 100.0)" fill="#ffb000"/>
<ellipse cx="79.6" cy="104.1" rx="7.5" ry="1.4" transform="rotate(154.4 79.6 104.1)" fill="#00e4ff"/>
<ellipse cx="81.6" cy="108.2" rx="10.5" ry="1.9" transform="rotate(155.3 81.6 108.2)" fill="#ffb000"/>
<ellipse cx="83.4" cy="112.4" rx="7.5" ry="1.4" transform="rotate(156.4 83.4 112.4)" fill="#00e4ff"/>
<ellipse cx="85.2" cy="116.5" rx="10.5" ry="1.9" transform="rotate(156.4 85.2 116.5)" fill="#ffb000"/>
<ellipse cx="87.0" cy="120.5" rx="7.5" ry="1.4" transform="rotate(153.4 87.0 120.5)" fill="#00e4ff"/>
<ellipse cx="7.0" cy="46.0" rx="2.5" ry="12.0" transform="rotate(0.0 7.0 46.0)" fill="url(#oc)"/>
<ellipse cx="131.5" cy="36.5" rx="1.8" ry="1.8" transform="rotate(0.0 131.5 36.5)" fill="#ffb000"/>
<path d="M78.20,130.00 C79.13,129.38 82.20,127.38 83.80,126.30 C85.40,125.22 86.42,124.45 87.80,123.50 C89.18,122.55 90.43,121.73 92.10,120.60 C93.77,119.47 96.85,117.35 97.80,116.70" fill="none" stroke="#ffb000" stroke-width="5.5" stroke-linecap="round"/>
<path d="M15.00,-6.30 C16.50,-4.47 20.67,1.62 24.00,4.70 C27.33,7.78 31.33,9.70 35.00,12.20 C38.67,14.70 42.50,17.37 46.00,19.70 C49.50,22.03 52.67,24.33 56.00,26.20 C59.33,28.07 62.83,29.98 66.00,30.90 C69.17,31.82 71.83,31.70 75.00,31.70 C78.17,31.70 82.33,31.50 85.00,30.90 C87.67,30.30 88.67,29.13 91.00,28.10 C93.33,27.07 96.00,25.93 99.00,24.70 C102.00,23.47 105.67,21.93 109.00,20.70 C112.33,19.47 115.67,18.13 119.00,17.30 C122.33,16.47 125.83,16.00 129.00,15.70 C132.17,15.40 136.50,15.53 138.00,15.50" fill="none" stroke="#000" stroke-width="1"/>
<path d="M0.00,93.40 C1.67,93.40 7.50,93.20 10.00,93.40 C12.50,93.60 12.50,93.67 15.00,94.60 C17.50,95.53 21.67,96.93 25.00,99.00 C28.33,101.07 31.67,104.08 35.00,107.00 C38.33,109.92 42.17,113.67 45.00,116.50 C47.83,119.33 49.17,121.52 52.00,124.00 C54.83,126.48 59.33,129.68 62.00,131.40 C64.67,133.12 66.17,133.70 68.00,134.30 C69.83,134.90 71.10,135.28 73.00,135.00 C74.90,134.72 77.40,133.62 79.40,132.60 C81.40,131.58 83.40,129.98 85.00,128.90 C86.60,127.82 87.62,127.05 89.00,126.10 C90.38,125.15 91.63,124.33 93.30,123.20 C94.97,122.07 96.77,120.82 99.00,119.30 C101.23,117.78 104.53,115.45 106.70,114.10 C108.87,112.75 110.45,111.98 112.00,111.20 C113.55,110.42 114.33,110.02 116.00,109.40 C117.67,108.78 119.50,108.03 122.00,107.50 C124.50,106.97 128.33,106.45 131.00,106.20 C133.67,105.95 136.83,106.03 138.00,106.00" fill="none" stroke="#000" stroke-width="1"/>
<path d="M0.00,64.30 C1.00,64.42 3.50,64.55 6.00,65.00 C8.50,65.45 11.83,65.93 15.00,67.00 C18.17,68.07 22.50,70.15 25.00,71.40 C27.50,72.65 28.17,73.22 30.00,74.50 C31.83,75.78 34.00,77.48 36.00,79.10 C38.00,80.72 40.00,82.50 42.00,84.20 C44.00,85.90 46.00,87.62 48.00,89.30 C50.00,90.98 52.00,92.67 54.00,94.30 C56.00,95.93 58.00,97.72 60.00,99.10 C62.00,100.48 63.68,101.75 66.00,102.60 C68.32,103.45 71.57,104.08 73.90,104.20 C76.23,104.32 78.15,103.80 80.00,103.30 C81.85,102.80 83.33,102.10 85.00,101.20 C86.67,100.30 88.33,99.03 90.00,97.90 C91.67,96.77 93.50,95.45 95.00,94.40 C96.50,93.35 97.50,92.62 99.00,91.60 C100.50,90.58 102.33,89.33 104.00,88.30 C105.67,87.27 107.00,86.38 109.00,85.40 C111.00,84.42 113.83,83.17 116.00,82.40 C118.17,81.63 119.50,81.23 122.00,80.80 C124.50,80.37 128.33,80.00 131.00,79.80 C133.67,79.60 136.83,79.63 138.00,79.60" fill="none" stroke="#0000ff" stroke-width="2"/>
<path d="M0.00,38.50 C1.00,38.50 3.67,38.33 6.00,38.50 C8.33,38.67 11.00,39.03 14.00,39.50 C17.00,39.97 21.00,40.75 24.00,41.34 C27.00,41.92 29.83,42.35 32.00,43.01 C34.17,43.67 35.33,44.38 37.00,45.31 C38.67,46.24 40.33,47.26 42.00,48.61 C43.67,49.96 45.59,51.80 47.00,53.40 C48.41,55.01 49.49,56.77 50.46,58.24 C51.43,59.71 51.91,60.54 52.80,62.20 C53.69,63.86 54.52,65.03 55.80,68.20 C57.08,71.37 58.63,76.70 60.50,81.20 C62.37,85.70 65.00,90.70 67.00,95.20 C69.00,99.70 70.92,104.28 72.50,108.20 C74.08,112.12 75.25,115.17 76.50,118.70 C77.75,122.23 79.42,127.62 80.00,129.40" fill="none" stroke="#ff0000" stroke-width="2"/>
<path d="M0.00,48.00 C1.00,48.00 3.67,47.92 6.00,48.00 C8.33,48.08 11.00,48.26 14.00,48.50 C17.00,48.74 21.00,49.06 24.00,49.46 C27.00,49.86 29.83,50.49 32.00,50.89 C34.17,51.28 35.33,51.44 37.00,51.84 C38.67,52.24 40.34,52.64 42.00,53.29 C43.66,53.94 45.49,54.84 46.94,55.75 C48.38,56.65 49.60,57.72 50.68,58.71 C51.76,59.70 52.06,60.12 53.42,61.70 C54.78,63.28 56.48,64.95 58.86,68.20 C61.24,71.45 64.56,76.70 67.70,81.20 C70.84,85.70 74.70,90.70 77.70,95.20 C80.70,99.70 83.45,104.62 85.70,108.20 C87.95,111.78 89.77,114.50 91.20,116.70 C92.63,118.90 93.78,120.62 94.30,121.40" fill="none" stroke="#ff0000" stroke-width="2"/>
</g>
<rect x="46.5" y="14" width="44.5" height="18" fill="#fff"/>
<text x="47" y="28" font-size="18" fill="#000">(0,48)</text>
</g>
<rect x="138.1" y="137.5" width="126.5" height="126.9" fill="none" stroke="#000" stroke-width="1.3"/>
<path d="M159.2,137.5v1.7M159.2,264.4v-1.7M180.3,137.5v1.7M180.3,264.4v-1.7M201.3,137.5v1.7M201.3,264.4v-1.7M222.4,137.5v1.7M222.4,264.4v-1.7M243.5,137.5v1.7M243.5,264.4v-1.7M138.1,169.2h1.7M264.6,169.2h-1.7M138.1,200.9h1.7M264.6,200.9h-1.7M138.1,232.7h1.7M264.6,232.7h-1.7" stroke="#000" stroke-width="0.8" fill="none"/>
<g transform="translate(264.0 131.6)">
<g clip-path="url(#pc)">
<ellipse cx="3.8" cy="46.9" rx="9.0" ry="1.8" transform="rotate(91.4 3.8 46.9)" fill="#ffb000"/>
<ellipse cx="8.3" cy="47.2" rx="7.5" ry="1.3" transform="rotate(94.2 8.3 47.2)" fill="#00e4ff"/>
<ellipse cx="12.9" cy="47.5" rx="9.0" ry="1.8" transform="rotate(95.8 12.9 47.5)" fill="#ffb000"/>
<ellipse cx="17.3" cy="48.1" rx="7.5" ry="1.3" transform="rotate(98.6 17.3 48.1)" fill="#00e4ff"/>
<ellipse cx="21.7" cy="48.9" rx="9.0" ry="1.8" transform="rotate(100.8 21.7 48.9)" fill="#ffb000"/>
<ellipse cx="26.1" cy="49.6" rx="7.5" ry="1.3" transform="rotate(102.3 26.1 49.6)" fill="#00e4ff"/>
<ellipse cx="30.5" cy="50.1" rx="9.0" ry="1.8" transform="rotate(103.5 30.5 50.1)" fill="#ffb000"/>
<ellipse cx="34.9" cy="50.8" rx="7.5" ry="1.3" transform="rotate(107.1 34.9 50.8)" fill="#00e4ff"/>
<ellipse cx="38.9" cy="52.0" rx="9.0" ry="1.8" transform="rotate(120.6 38.9 52.0)" fill="#ffb000"/>
<ellipse cx="42.8" cy="54.0" rx="7.5" ry="1.3" transform="rotate(123.9 42.8 54.0)" fill="#00e4ff"/>
<ellipse cx="46.3" cy="56.6" rx="9.0" ry="1.8" transform="rotate(131.9 46.3 56.6)" fill="#ffb000"/>
<ellipse cx="49.4" cy="59.7" rx="4.0" ry="1.3" transform="rotate(136.7 49.4 59.7)" fill="#00e4ff"/>
<ellipse cx="52.3" cy="62.9" rx="6.0" ry="1.8" transform="rotate(139.6 52.3 62.9)" fill="#ffb000"/>
<ellipse cx="55.3" cy="66.0" rx="4.0" ry="1.3" transform="rotate(142.6 55.3 66.0)" fill="#00e4ff"/>
<ellipse cx="58.6" cy="68.9" rx="6.0" ry="1.8" transform="rotate(144.6 58.6 68.9)" fill="#ffb000"/>
<ellipse cx="61.7" cy="72.1" rx="4.0" ry="1.3" transform="rotate(148.3 61.7 72.1)" fill="#00e4ff"/>
<ellipse cx="64.6" cy="75.4" rx="6.0" ry="1.8" transform="rotate(150.4 64.6 75.4)" fill="#ffb000"/>
<ellipse cx="66.7" cy="79.1" rx="4.0" ry="1.3" transform="rotate(150.6 66.7 79.1)" fill="#00e4ff"/>
<ellipse cx="68.8" cy="82.7" rx="6.0" ry="1.8" transform="rotate(150.0 68.8 82.7)" fill="#ffb000"/>
<ellipse cx="70.9" cy="86.4" rx="4.0" ry="1.3" transform="rotate(150.1 70.9 86.4)" fill="#00e4ff"/>
<ellipse cx="73.0" cy="90.0" rx="6.0" ry="1.8" transform="rotate(150.4 73.0 90.0)" fill="#ffb000"/>
<ellipse cx="75.0" cy="93.6" rx="4.0" ry="1.3" transform="rotate(151.0 75.0 93.6)" fill="#00e4ff"/>
<ellipse cx="77.0" cy="97.3" rx="6.0" ry="1.8" transform="rotate(151.4 77.0 97.3)" fill="#ffb000"/>
<ellipse cx="78.9" cy="100.9" rx="4.0" ry="1.3" transform="rotate(151.7 78.9 100.9)" fill="#00e4ff"/>
<ellipse cx="80.9" cy="104.5" rx="6.0" ry="1.8" transform="rotate(151.9 80.9 104.5)" fill="#ffb000"/>
<ellipse cx="82.8" cy="108.2" rx="4.0" ry="1.3" transform="rotate(152.4 82.8 108.2)" fill="#00e4ff"/>
<ellipse cx="84.7" cy="111.8" rx="6.0" ry="1.8" transform="rotate(153.2 84.7 111.8)" fill="#ffb000"/>
<ellipse cx="86.5" cy="115.5" rx="4.0" ry="1.3" transform="rotate(154.1 86.5 115.5)" fill="#00e4ff"/>
<ellipse cx="88.3" cy="119.3" rx="6.0" ry="1.8" transform="rotate(154.9 88.3 119.3)" fill="#ffb000"/>
<ellipse cx="90.0" cy="123.1" rx="4.0" ry="1.3" transform="rotate(157.6 90.0 123.1)" fill="#00e4ff"/>
<ellipse cx="6.6" cy="51.5" rx="2.4" ry="8.5" transform="rotate(0.0 6.6 51.5)" fill="url(#gbl)"/>
<ellipse cx="6.6" cy="34.0" rx="1.8" ry="3.0" transform="rotate(0.0 6.6 34.0)" fill="#00e4ff"/>
<ellipse cx="131.5" cy="50.9" rx="1.0" ry="1.5" transform="rotate(0.0 131.5 50.9)" fill="#ffb000"/>
<ellipse cx="131.0" cy="66.9" rx="2.0" ry="2.0" transform="rotate(0.0 131.0 66.9)" fill="#00e4ff"/>
<ellipse cx="131.0" cy="72.9" rx="2.0" ry="2.5" transform="rotate(0.0 131.0 72.9)" fill="#ffb000"/>
<ellipse cx="122.0" cy="77.5" rx="1.2" ry="1.2" transform="rotate(0.0 122.0 77.5)" fill="#ffb000"/>
<ellipse cx="127.0" cy="77.8" rx="1.0" ry="1.0" transform="rotate(0.0 127.0 77.8)" fill="#00e4ff"/>
<ellipse cx="16.0" cy="59.7" rx="1.8" ry="2.5" transform="rotate(0.0 16.0 59.7)" fill="#ffb000"/>
<ellipse cx="21.3" cy="59.7" rx="1.2" ry="2.0" transform="rotate(0.0 21.3 59.7)" fill="#00e4ff"/>
<ellipse cx="36.7" cy="59.1" rx="1.8" ry="2.5" transform="rotate(0.0 36.7 59.1)" fill="#ffb000"/>
<ellipse cx="39.0" cy="64.4" rx="1.0" ry="1.5" transform="rotate(0.0 39.0 64.4)" fill="#00e4ff"/>
<ellipse cx="5.9" cy="61.7" rx="1.8" ry="2.5" transform="rotate(0.0 5.9 61.7)" fill="#ffb000"/>
<ellipse cx="6.2" cy="71.1" rx="2.0" ry="3.0" transform="rotate(0.0 6.2 71.1)" fill="#00e4ff"/>
<ellipse cx="6.2" cy="77.7" rx="1.8" ry="2.5" transform="rotate(0.0 6.2 77.7)" fill="#ffb000"/>
<ellipse cx="11.3" cy="69.1" rx="1.3" ry="1.3" transform="rotate(0.0 11.3 69.1)" fill="#ffb000"/>
<path d="M83.80,126.30 C84.47,125.83 86.42,124.45 87.80,123.50 C89.18,122.55 90.43,121.73 92.10,120.60 C93.77,119.47 96.85,117.35 97.80,116.70" fill="none" stroke="#ffb000" stroke-width="5.5" stroke-linecap="round"/>
<path d="M12.00,-5.00 C13.58,-3.17 18.08,2.87 21.50,6.00 C24.92,9.13 28.75,11.22 32.50,13.80 C36.25,16.38 40.42,19.13 44.00,21.50 C47.58,23.87 51.12,26.37 54.00,28.00 C56.88,29.63 58.97,30.43 61.30,31.30 C63.63,32.17 65.50,32.78 68.00,33.20 C70.50,33.62 73.63,33.90 76.30,33.80 C78.97,33.70 81.50,33.20 84.00,32.60 C86.50,32.00 89.47,30.85 91.30,30.20 C93.13,29.55 93.55,29.30 95.00,28.70 C96.45,28.10 97.67,27.58 100.00,26.60 C102.33,25.62 105.83,24.03 109.00,22.80 C112.17,21.57 115.67,20.10 119.00,19.20 C122.33,18.30 125.83,17.77 129.00,17.40 C132.17,17.03 136.50,17.07 138.00,17.00" fill="none" stroke="#000" stroke-width="1"/>
<path d="M0.00,93.40 C1.67,93.40 7.50,93.20 10.00,93.40 C12.50,93.60 12.50,93.67 15.00,94.60 C17.50,95.53 21.67,96.93 25.00,99.00 C28.33,101.07 31.67,104.08 35.00,107.00 C38.33,109.92 42.17,113.67 45.00,116.50 C47.83,119.33 49.17,121.52 52.00,124.00 C54.83,126.48 59.33,129.68 62.00,131.40 C64.67,133.12 66.17,133.70 68.00,134.30 C69.83,134.90 71.10,135.28 73.00,135.00 C74.90,134.72 77.40,133.62 79.40,132.60 C81.40,131.58 83.40,129.98 85.00,128.90 C86.60,127.82 87.62,127.05 89.00,126.10 C90.38,125.15 91.63,124.33 93.30,123.20 C94.97,122.07 96.77,120.82 99.00,119.30 C101.23,117.78 104.53,115.45 106.70,114.10 C108.87,112.75 110.45,111.98 112.00,111.20 C113.55,110.42 114.33,110.02 116.00,109.40 C117.67,108.78 119.50,108.03 122.00,107.50 C124.50,106.97 128.33,106.45 131.00,106.20 C133.67,105.95 136.83,106.03 138.00,106.00" fill="none" stroke="#000" stroke-width="1"/>
<path d="M0.00,64.30 C1.00,64.42 3.50,64.55 6.00,65.00 C8.50,65.45 11.83,65.93 15.00,67.00 C18.17,68.07 22.50,70.15 25.00,71.40 C27.50,72.65 28.17,73.22 30.00,74.50 C31.83,75.78 34.00,77.48 36.00,79.10 C38.00,80.72 40.00,82.50 42.00,84.20 C44.00,85.90 46.00,87.62 48.00,89.30 C50.00,90.98 52.00,92.67 54.00,94.30 C56.00,95.93 58.00,97.72 60.00,99.10 C62.00,100.48 63.68,101.75 66.00,102.60 C68.32,103.45 71.57,104.08 73.90,104.20 C76.23,104.32 78.15,103.80 80.00,103.30 C81.85,102.80 83.33,102.10 85.00,101.20 C86.67,100.30 88.33,99.03 90.00,97.90 C91.67,96.77 93.50,95.45 95.00,94.40 C96.50,93.35 97.50,92.62 99.00,91.60 C100.50,90.58 102.33,89.33 104.00,88.30 C105.67,87.27 107.00,86.38 109.00,85.40 C111.00,84.42 113.83,83.17 116.00,82.40 C118.17,81.63 119.50,81.23 122.00,80.80 C124.50,80.37 128.33,80.00 131.00,79.80 C133.67,79.60 136.83,79.63 138.00,79.60" fill="none" stroke="#0000ff" stroke-width="2"/>
<path d="M0.00,39.90 C1.00,39.95 3.33,39.98 6.00,40.20 C8.67,40.42 12.67,40.75 16.00,41.20 C19.33,41.65 23.50,42.45 26.00,42.90 C28.50,43.35 29.33,43.40 31.00,43.90 C32.67,44.40 34.33,45.07 36.00,45.90 C37.67,46.73 39.33,47.65 41.00,48.90 C42.67,50.15 44.33,51.65 46.00,53.40 C47.67,55.15 49.50,57.38 51.00,59.40 C52.50,61.42 53.75,63.40 55.00,65.50 C56.25,67.60 57.25,69.18 58.50,72.00 C59.75,74.82 60.92,78.90 62.50,82.40 C64.08,85.90 66.18,89.33 68.00,93.00 C69.82,96.67 72.02,101.32 73.40,104.40 C74.78,107.48 75.20,108.65 76.30,111.50 C77.40,114.35 78.85,118.57 80.00,121.50 C81.15,124.43 82.67,127.83 83.20,129.10" fill="none" stroke="#ff0000" stroke-width="2"/>
<path d="M0.00,48.90 C1.00,48.90 3.33,48.78 6.00,48.90 C8.67,49.02 12.67,49.18 16.00,49.60 C19.33,50.02 23.50,51.02 26.00,51.40 C28.50,51.78 29.33,51.57 31.00,51.90 C32.67,52.23 34.33,52.82 36.00,53.40 C37.67,53.98 39.33,54.65 41.00,55.40 C42.67,56.15 44.33,56.82 46.00,57.90 C47.67,58.98 49.50,60.63 51.00,61.90 C52.50,63.17 53.50,64.10 55.00,65.50 C56.50,66.90 57.90,67.82 60.00,70.30 C62.10,72.78 65.10,76.82 67.60,80.40 C70.10,83.98 72.48,87.80 75.00,91.80 C77.52,95.80 80.45,100.78 82.70,104.40 C84.95,108.02 86.73,110.62 88.50,113.50 C90.27,116.38 92.50,120.33 93.30,121.70" fill="none" stroke="#ff0000" stroke-width="2"/>
</g>
<rect x="46.5" y="14" width="44.5" height="18" fill="#fff"/>
<text x="47" y="28" font-size="18" fill="#000">(0,50)</text>
</g>
<path d="M396.4,137.5H269.9V264.4H396.4" fill="none" stroke="#000" stroke-width="1.3" stroke-linecap="square"/>
<path d="M396.0,136.9V265.0" stroke="#000" stroke-opacity="0.55" stroke-width="1.6" fill="none"/>
<path d="M291.0,137.5v1.7M291.0,264.4v-1.7M312.1,137.5v1.7M312.1,264.4v-1.7M333.1,137.5v1.7M333.1,264.4v-1.7M354.2,137.5v1.7M354.2,264.4v-1.7M375.3,137.5v1.7M375.3,264.4v-1.7M269.9,169.2h1.7M396.4,169.2h-1.7M269.9,200.9h1.7M396.4,200.9h-1.7M269.9,232.7h1.7M396.4,232.7h-1.7" stroke="#000" stroke-width="0.8" fill="none"/>
</svg></body></html>
